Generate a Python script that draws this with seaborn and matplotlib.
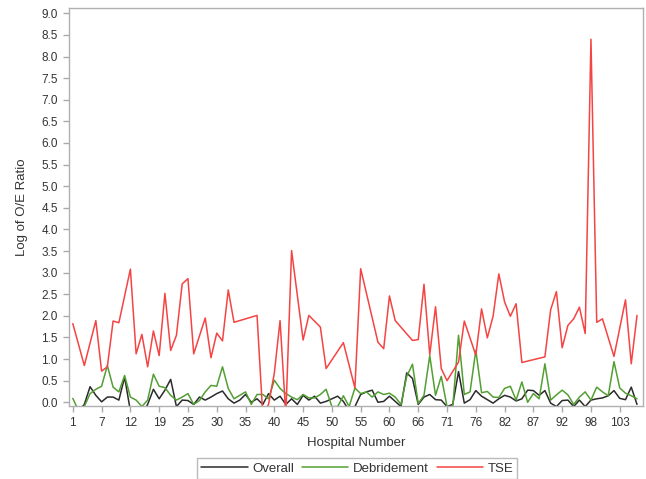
import numpy as np
import pandas as pd
import matplotlib
matplotlib.use("Agg")
import matplotlib.pyplot as plt
import seaborn as sns

nan = np.nan

# x axis is the hospital order; only every 5th hospital number is labelled
tick_labels = [1, 7, 12, 19, 25, 30, 35, 40, 45, 50, 55, 60, 66, 71, 76, 82, 87, 92, 98, 103]

# log of O/E ratio per hospital (missing values are joined over, negatives fall below the axis)
overall = [-0.30, -0.20, -0.05, 0.36, 0.16, 0.01, 0.12, 0.12, 0.05, 0.58,
           -0.20, -0.30, -0.30, -0.05, 0.30, 0.08, 0.28, 0.53, -0.10, 0.05,
           0.04, -0.05, 0.12, 0.05, 0.12, 0.20, 0.26, 0.08, -0.02, 0.05,
           0.18, 0.00, 0.08, -0.05, 0.20, 0.05, 0.14, -0.05, 0.08, -0.05,
           0.16, 0.05, 0.14, -0.02, 0.02, 0.08, 0.14, 0.02, -0.20, -0.10,
           0.18, 0.24, 0.28, 0.00, 0.02, 0.14, 0.02, -0.10, 0.68, 0.55,
           -0.05, 0.12, 0.18, 0.06, 0.05, -0.10, -0.05, 0.71, -0.02, 0.06,
           0.27, 0.14, 0.06, -0.02, 0.08, 0.16, 0.12, 0.03, 0.08, 0.28,
           0.27, 0.16, 0.27, -0.02, -0.10, 0.04, 0.05, -0.10, 0.05, -0.10,
           0.05, 0.08, 0.10, 0.15, 0.27, 0.09, 0.06, 0.35, -0.05]

debridement = [0.09, -0.20, -0.10, 0.20, 0.30, 0.37, 0.85, 0.35, 0.24, 0.62,
               0.12, 0.05, -0.10, 0.05, 0.65, 0.37, 0.34, 0.16, 0.05, 0.12,
               0.20, -0.05, 0.04, 0.24, 0.39, 0.37, 0.82, 0.32, 0.08, 0.16,
               0.24, -0.05, 0.18, 0.18, 0.08, 0.51, 0.32, 0.20, 0.12, 0.06,
               0.18, 0.10, 0.10, 0.18, 0.30, -0.10, -0.10, 0.15, -0.10, 0.33,
               0.20, 0.24, 0.12, 0.24, 0.18, 0.21, 0.12, -0.05, 0.60, 0.88,
               -0.03, 0.16, 1.08, 0.16, 0.60, -0.10, -0.10, 1.55, 0.18, 0.24,
               1.20, 0.22, 0.25, 0.12, 0.11, 0.32, 0.37, 0.05, 0.47, 0.00,
               0.20, 0.08, 0.89, 0.05, 0.17, 0.28, 0.17, -0.05, 0.12, 0.24,
               0.05, 0.35, 0.24, 0.15, 0.94, 0.33, 0.21, 0.15, 0.08]

tse = [1.82, nan, 0.85, nan, 1.89, 0.72, 0.82, 1.88, 1.84, nan,
       3.08, 1.12, 1.57, 0.82, 1.65, 1.08, 2.52, 1.20, 1.55, 2.74,
       2.86, 1.12, nan, 1.95, 1.03, 1.60, 1.42, 2.60, 1.85, nan,
       nan, nan, 2.01, -0.30, -0.05, 0.67, 1.89, -0.30, 3.51, nan,
       1.44, 2.01, nan, 1.74, 0.78, nan, nan, 1.38, nan, 0.33,
       3.09, nan, nan, 1.39, 1.24, 2.46, 1.89, nan, nan, 1.43,
       1.45, 2.73, 1.10, 2.21, 0.78, 0.50, nan, 0.93, 1.88, nan,
       1.09, 2.16, 1.49, 1.99, 2.97, 2.32, 1.99, 2.28, 0.92, nan,
       nan, nan, 1.05, 2.14, 2.56, 1.26, 1.78, 1.93, 2.20, 1.59,
       8.40, 1.85, 1.93, nan, 1.06, nan, 2.37, 0.89, 2.01]

series_order = ["Overall", "Debridement", "TSE"]
colors = {"Overall": "#2b2b2b", "Debridement": "#539f33", "TSE": "#f44444"}

df = pd.DataFrame({"pos": np.arange(len(tse)), "Overall": overall,
                   "Debridement": debridement, "TSE": tse})
long = df.melt(id_vars="pos", var_name="series", value_name="log_oe").dropna()

sns.set_style("white")
plt.rcParams["font.family"] = ["Liberation Sans", "DejaVu Sans"]

fig = plt.figure(figsize=(6.46, 4.79), dpi=100)
ax = fig.add_axes([0.107, 0.153, 0.888, 0.830])

sns.lineplot(data=long, x="pos", y="log_oe", hue="series", hue_order=series_order,
             palette=colors, estimator=None, sort=True, linewidth=1.1, ax=ax)

ax.set_xlim(-0.64, 99.0)
ax.set_ylim(-0.08, 9.12)
ax.set_xticks(np.arange(0, len(tse), 5))
ax.set_xticklabels([str(t) for t in tick_labels])
yt = np.arange(0, 9.01, 0.5)
ax.set_yticks(yt)
ax.set_yticklabels([f"{v:.1f}" for v in yt])
ax.tick_params(bottom=True, left=True, direction="out", length=4, width=1,
               color="#aaaaaa", labelsize=8.5, labelcolor="#333333", pad=4)
for sp in ax.spines.values():
    sp.set_color("#b0b0b0")
    sp.set_linewidth(1)

ax.set_xlabel("Hospital Number", fontsize=9.5, color="#333333", labelpad=6)
ax.set_ylabel("Log of O/E Ratio", fontsize=9.5, color="#333333", labelpad=10)

handles, labels = ax.get_legend_handles_labels()
ax.get_legend().remove()
leg = fig.legend(handles, labels, loc="center", bbox_to_anchor=(0.553, 0.022), ncol=3,
                 frameon=True, fancybox=False, edgecolor="#aaaaaa", fontsize=9.5,
                 handlelength=3.5, handletextpad=0.35, columnspacing=0.6,
                 borderpad=0.3, borderaxespad=0)
for t in leg.get_texts():
    t.set_color("#333333")

fig.savefig("out.png", dpi=100)
